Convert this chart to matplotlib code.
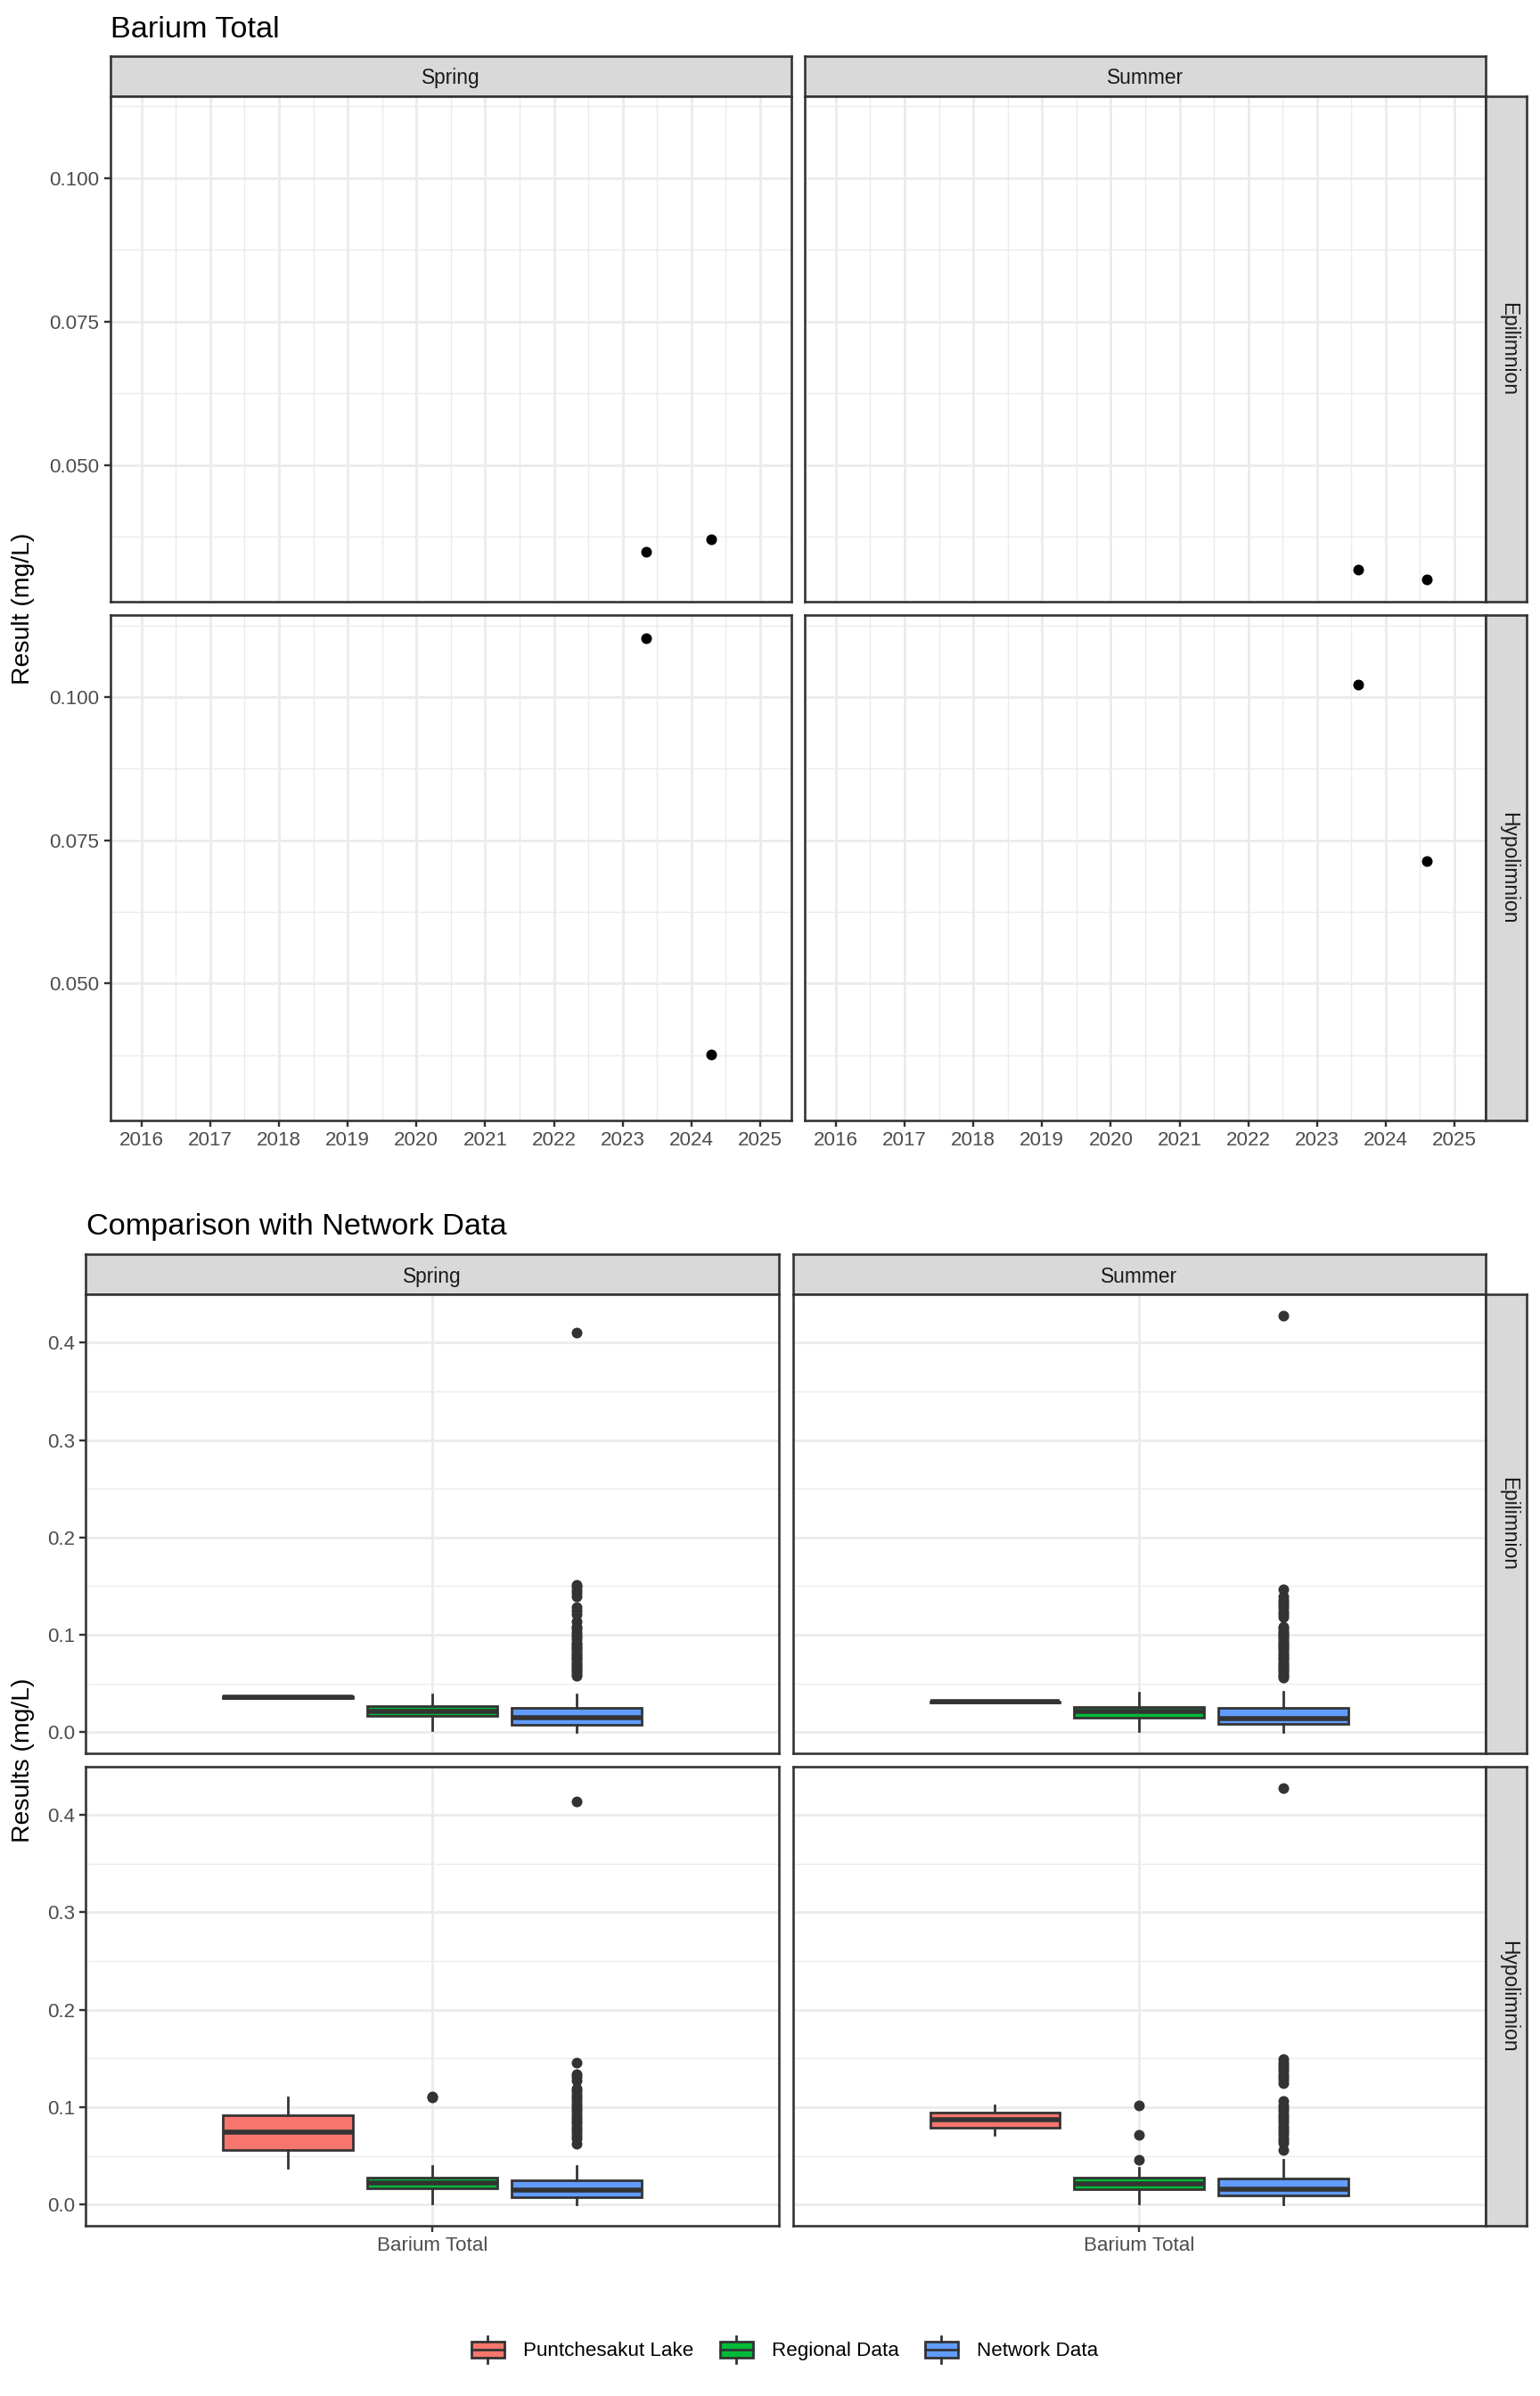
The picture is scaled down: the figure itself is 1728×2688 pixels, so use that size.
import numpy as np
import matplotlib
matplotlib.use("Agg")
import matplotlib.pyplot as plt
from matplotlib.patches import Rectangle, Patch
from matplotlib.lines import Line2D
from matplotlib.legend_handler import HandlerBase

plt.rcParams['font.family'] = ['Liberation Sans', 'DejaVu Sans']

# ---------------- data ----------------
seasons = ["Spring", "Summer"]
layers = ["Epilimnion", "Hypolimnion"]
year_ticks = [2016, 2017, 2018, 2019, 2020, 2021, 2022, 2023, 2024, 2025]

# Lake time series (decimal year, mg/L)
spring_epi_date = [2023.34, 2024.28]
spring_epi_result = [0.0349, 0.0370]
summer_epi_date = [2023.60, 2024.60]
summer_epi_result = [0.0317, 0.0301]
spring_hypo_date = [2023.34, 2024.28]
spring_hypo_result = [0.1103, 0.0376]
summer_hypo_date = [2023.60, 2024.60]
summer_hypo_result = [0.1021, 0.0713]

# Regional data box summaries, panel order: Spring-Epi, Summer-Epi, Spring-Hypo, Summer-Hypo
regional_q1 = [0.0163, 0.0145, 0.0169, 0.0161]
regional_med = [0.0217, 0.0210, 0.0219, 0.0215]
regional_q3 = [0.0264, 0.0257, 0.0277, 0.0272]
regional_lo = [0.002, 0.001, 0.001, 0.001]
regional_hi = [0.039, 0.0408, 0.0396, 0.038]
regional_fliers_spring_epi = []
regional_fliers_summer_epi = []
regional_fliers_spring_hypo = [0.110, 0.111]
regional_fliers_summer_hypo = [0.0462, 0.0714, 0.102]

# Network data box summaries
network_q1 = [0.0079, 0.0080, 0.0078, 0.0091]
network_med = [0.0152, 0.0140, 0.0149, 0.0157]
network_q3 = [0.0246, 0.0246, 0.0244, 0.0264]
network_lo = [0.0, 0.0, 0.0, 0.0]
network_hi = [0.039, 0.041, 0.0396, 0.0458]
network_fliers_spring_epi = [0.058, 0.060, 0.062, 0.064, 0.066, 0.068, 0.070, 0.072, 0.074,
                             0.076, 0.078, 0.080, 0.082, 0.084, 0.086, 0.088, 0.090, 0.092,
                             0.095, 0.098, 0.100, 0.103, 0.106, 0.108, 0.114, 0.121, 0.125,
                             0.128, 0.139, 0.143, 0.146, 0.149, 0.151, 0.410]
network_fliers_summer_epi = [0.056, 0.058, 0.060, 0.062, 0.064, 0.066, 0.068, 0.070, 0.072,
                             0.074, 0.076, 0.078, 0.080, 0.082, 0.084, 0.086, 0.088, 0.090,
                             0.092, 0.094, 0.096, 0.098, 0.100, 0.102, 0.104, 0.106, 0.108,
                             0.118, 0.121, 0.124, 0.127, 0.130, 0.133, 0.136, 0.139, 0.147,
                             0.428]
network_fliers_spring_hypo = [0.062, 0.068, 0.071, 0.074, 0.077, 0.080, 0.083, 0.086, 0.089,
                              0.092, 0.095, 0.098, 0.101, 0.104, 0.107, 0.110, 0.113, 0.116,
                              0.119, 0.127, 0.131, 0.134, 0.146, 0.414]
network_fliers_summer_hypo = [0.056, 0.063, 0.066, 0.069, 0.072, 0.075, 0.078, 0.081, 0.084,
                              0.087, 0.090, 0.093, 0.096, 0.099, 0.102, 0.1065, 0.125, 0.128,
                              0.131, 0.134, 0.137, 0.140, 0.143, 0.146, 0.149, 0.428]

group_labels = ["Puntchesakut Lake", "Regional Data", "Network Data"]
group_colors = ["#F8766D", "#00BA38", "#619CFF"]
parameter = "Barium Total"

# ---------------- figure ----------------
W, H, DPI = 1728, 2688, 144
fig = plt.figure(figsize=(W / DPI, H / DPI), dpi=DPI)
fig.patch.set_facecolor("white")

DARK = "#333333"
GRID = "#EBEBEB"
TXT = "#4D4D4D"
STRIP = "#D9D9D9"
FS_TICK = 11.2
FS_STRIP = 11.4
FS_TITLE = 17.1
FS_AXT = 14.2
LW = 1.38


def px_axes(x0, x1, y0, y1, **kw):
    return fig.add_axes([x0 / W, 1 - y1 / H, (x1 - x0) / W, (y1 - y0) / H], **kw)


def style_panel(ax):
    ax.set_facecolor("white")
    for s in ax.spines.values():
        s.set_color(DARK)
        s.set_linewidth(1.3)
        s.set_zorder(5)
    ax.set_axisbelow(True)
    ax.tick_params(which="major", direction="out", length=3.56, width=1.2, color=DARK,
                   labelcolor=TXT, labelsize=FS_TICK, pad=2.6)
    ax.tick_params(which="minor", length=0)
    ax.grid(which="major", color=GRID, linewidth=1.38)
    ax.grid(which="minor", color=GRID, linewidth=0.7)


def strip_top(x0, x1, y0, y1, label):
    s = px_axes(x0, x1, y0, y1)
    s.set_facecolor(STRIP)
    s.set_xticks([]); s.set_yticks([])
    for sp in s.spines.values():
        sp.set_color(DARK); sp.set_linewidth(1.3)
    s.text(0.5, 0.44, label, ha="center", va="center", fontsize=FS_STRIP, color="#1A1A1A",
           transform=s.transAxes)


def strip_right(x0, x1, y0, y1, label):
    s = px_axes(x0, x1, y0, y1)
    s.set_facecolor(STRIP)
    s.set_xticks([]); s.set_yticks([])
    for sp in s.spines.values():
        sp.set_color(DARK); sp.set_linewidth(1.3)
    s.text(0.56, 0.5, label, ha="center", va="center", fontsize=FS_STRIP, color="#1A1A1A",
           rotation=-90, transform=s.transAxes)


# ---------------- top: time series ----------------
top_cols = [(123.5, 888.0), (902.7, 1667.0)]
top_rows = [(107.6, 675.4), (690.0, 1257.0)]
top_strip = (62.9, 107.6)
right_strip_x = (1667.0, 1713.0)

series_dates = {("Spring", "Epilimnion"): spring_epi_date,
                ("Summer", "Epilimnion"): summer_epi_date,
                ("Spring", "Hypolimnion"): spring_hypo_date,
                ("Summer", "Hypolimnion"): summer_hypo_date}
series_vals = {("Spring", "Epilimnion"): spring_epi_result,
               ("Summer", "Epilimnion"): summer_epi_result,
               ("Spring", "Hypolimnion"): spring_hypo_result,
               ("Summer", "Hypolimnion"): summer_hypo_result}

all_vals = np.concatenate([np.array(v) for v in series_vals.values()])
yr = all_vals.max() - all_vals.min()
top_ylim = (all_vals.min() - 0.05 * yr, all_vals.max() + 0.05 * yr)

for ci, season in enumerate(seasons):
    x0, x1 = top_cols[ci]
    strip_top(x0, x1, top_strip[0], top_strip[1], season)
    for ri, layer in enumerate(layers):
        y0, y1 = top_rows[ri]
        ax = px_axes(x0, x1, y0, y1)
        style_panel(ax)
        ax.plot(series_dates[(season, layer)], series_vals[(season, layer)], "o",
                color="black", markersize=5.0, linestyle="none", zorder=3)
        ax.set_xlim(2015.544, 2025.453)
        ax.set_ylim(*top_ylim)
        ax.set_xticks(year_ticks)
        ax.set_xticks([y + 0.5 for y in year_ticks[:-1]], minor=True)
        ax.set_yticks([0.050, 0.075, 0.100])
        ax.set_yticks([0.0375, 0.0625, 0.0875, 0.1125], minor=True)
        if ri == 1:
            ax.set_xticklabels([str(y) for y in year_ticks])
        else:
            ax.tick_params(axis="x", which="major", length=0, labelbottom=False)
        if ci == 0:
            ax.set_yticklabels(["0.050", "0.075", "0.100"])
        else:
            ax.tick_params(axis="y", which="major", length=0, labelleft=False)
        if ci == 1:
            strip_right(right_strip_x[0], right_strip_x[1], y0, y1, layer)

fig.text(124 / W, 1 - 42.4 / H, "Barium Total", fontsize=FS_TITLE, ha="left", va="baseline")
fig.text(26 / W, 1 - 682.5 / H, "Result (mg/L)", fontsize=FS_AXT, rotation=90,
         ha="center", va="center")

# ---------------- bottom: box plots ----------------
bot_cols = [(96.4, 873.7), (889.7, 1667.0)]
bot_rows = [(1452.3, 1966.6), (1982.3, 2496.5)]
bot_strip = (1406.5, 1452.3)

lake_vals = [spring_epi_result, summer_epi_result, spring_hypo_result, summer_hypo_result]
regional_fliers = [regional_fliers_spring_epi, regional_fliers_summer_epi,
                   regional_fliers_spring_hypo, regional_fliers_summer_hypo]
network_fliers = [network_fliers_spring_epi, network_fliers_summer_epi,
                  network_fliers_spring_hypo, network_fliers_summer_hypo]


def lake_stats(vals):
    v = np.array(vals)
    q1, med, q3 = np.percentile(v, [25, 50, 75])
    iqr = q3 - q1
    inside = v[(v >= q1 - 1.5 * iqr) & (v <= q3 + 1.5 * iqr)]
    return dict(q1=q1, med=med, q3=q3, whislo=inside.min(), whishi=inside.max(),
                fliers=v[(v < q1 - 1.5 * iqr) | (v > q3 + 1.5 * iqr)])


positions = [0.75, 1.0, 1.25]
bot_ylim = (-0.0214, 0.4494)

for ci, season in enumerate(seasons):
    x0, x1 = bot_cols[ci]
    strip_top(x0, x1, bot_strip[0], bot_strip[1], season)
    for ri, layer in enumerate(layers):
        k = ri * 2 + ci
        y0, y1 = bot_rows[ri]
        ax = px_axes(x0, x1, y0, y1)
        style_panel(ax)
        stats = [
            lake_stats(lake_vals[k]),
            dict(q1=regional_q1[k], med=regional_med[k], q3=regional_q3[k],
                 whislo=regional_lo[k], whishi=regional_hi[k], fliers=regional_fliers[k]),
            dict(q1=network_q1[k], med=network_med[k], q3=network_q3[k],
                 whislo=network_lo[k], whishi=network_hi[k], fliers=network_fliers[k]),
        ]
        res = ax.bxp(stats, positions=positions, widths=0.225, patch_artist=True,
                     showcaps=False, showfliers=True, manage_ticks=False,
                     boxprops=dict(edgecolor=DARK, linewidth=LW),
                     whiskerprops=dict(color=DARK, linewidth=LW),
                     medianprops=dict(color=DARK, linewidth=2.77, solid_capstyle="butt"),
                     flierprops=dict(marker="o", markerfacecolor=DARK, markeredgecolor=DARK,
                                     markersize=5.0, linestyle="none"))
        for patch, col in zip(res["boxes"], group_colors):
            patch.set_facecolor(col)
        ax.set_xlim(0.4, 1.6)
        ax.set_ylim(*bot_ylim)
        ax.set_xticks([1.0])
        ax.set_yticks([0.0, 0.1, 0.2, 0.3, 0.4])
        ax.set_yticks([0.05, 0.15, 0.25, 0.35], minor=True)
        if ri == 1:
            ax.set_xticklabels([parameter])
        else:
            ax.tick_params(axis="x", which="major", length=0, labelbottom=False)
        if ci == 0:
            ax.set_yticklabels(["0.0", "0.1", "0.2", "0.3", "0.4"])
        else:
            ax.tick_params(axis="y", which="major", length=0, labelleft=False)
        if ci == 1:
            strip_right(right_strip_x[0], right_strip_x[1], y0, y1, layer)

fig.text(97 / W, 1 - 1385 / H, "Comparison with Network Data", fontsize=FS_TITLE,
         ha="left", va="baseline")
fig.text(26 / W, 1 - 1974.4 / H, "Results (mg/L)", fontsize=FS_AXT, rotation=90,
         ha="center", va="center")


# ---------------- legend ----------------
class BoxKeyHandler(HandlerBase):
    def create_artists(self, legend, orig_handle, xdescent, ydescent, width, height,
                       fontsize, trans):
        x0, y0 = -xdescent, -ydescent
        fc = orig_handle.get_facecolor()
        box = Rectangle((x0, y0 + height * 0.18), width, height * 0.64, facecolor=fc,
                        edgecolor=DARK, linewidth=LW, transform=trans)
        med = Line2D([x0, x0 + width], [y0 + height / 2] * 2, color=DARK, linewidth=LW,
                     transform=trans)
        wt = Line2D([x0 + width / 2] * 2, [y0 + height * 0.82, y0 + height], color=DARK,
                    linewidth=LW, transform=trans)
        wb = Line2D([x0 + width / 2] * 2, [y0, y0 + height * 0.18], color=DARK,
                    linewidth=LW, transform=trans)
        return [box, med, wt, wb]


handles = [Patch(facecolor=c, edgecolor=DARK) for c in group_colors]
fig.legend(handles, group_labels, loc="center", bbox_to_anchor=(880.6 / W, 1 - 2636 / H),
           ncol=3, frameon=False, fontsize=11.2, handlelength=1.65, handleheight=1.65,
           handletextpad=0.95, columnspacing=1.3,
           handler_map={Patch: BoxKeyHandler()})

fig.savefig("out.png", dpi=DPI, facecolor="white")
